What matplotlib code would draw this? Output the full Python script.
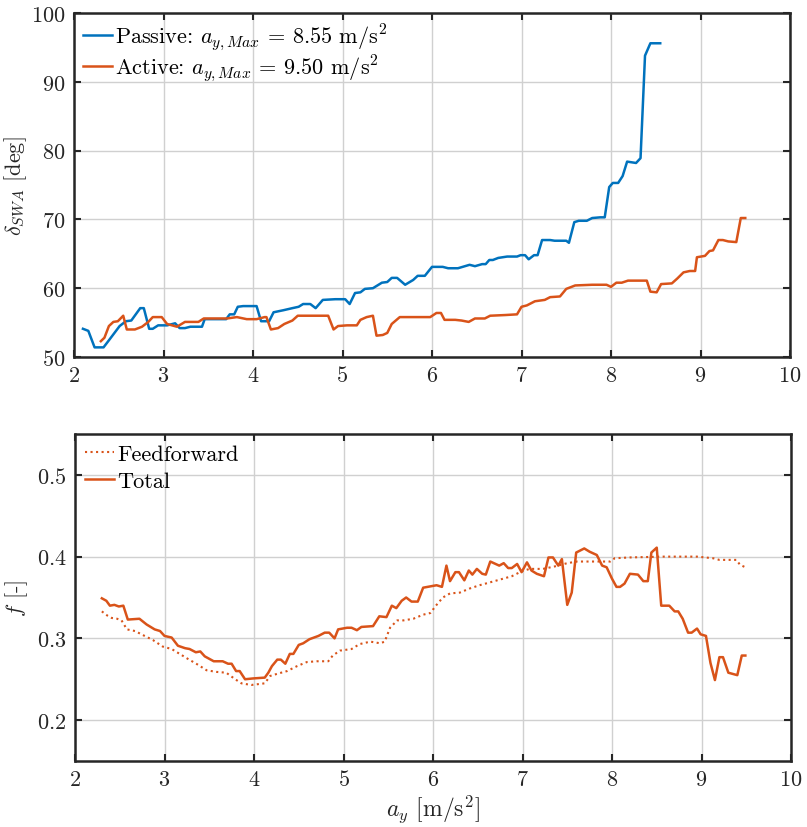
import matplotlib
matplotlib.use('Agg')
import matplotlib.pyplot as plt

plt.rcParams['font.family'] = 'serif'
plt.rcParams['font.serif'] = ['cmr10']
plt.rcParams['mathtext.fontset'] = 'cm'
plt.rcParams['axes.formatter.use_mathtext'] = True

BLUE = '#0072BD'
ORANGE = '#D95319'

# top: steering wheel angle vs lateral acceleration
passive_ay = [2.10, 2.16, 2.23, 2.33, 2.40, 2.51, 2.58, 2.64, 2.74, 2.78, 2.84, 2.88, 2.94, 3.04,
              3.13, 3.18, 3.24, 3.30, 3.43, 3.46, 3.70, 3.74, 3.79, 3.83, 3.89, 4.04, 4.09, 4.18,
              4.23, 4.34, 4.44, 4.51, 4.56, 4.64, 4.70, 4.78, 4.92, 5.03, 5.08, 5.14, 5.20, 5.25,
              5.34, 5.44, 5.50, 5.55, 5.61, 5.70, 5.79, 5.84, 5.92, 6.00, 6.12, 6.18, 6.29, 6.42,
              6.48, 6.56, 6.60, 6.64, 6.68, 6.74, 6.84, 6.95, 6.99, 7.04, 7.08, 7.14, 7.18, 7.23,
              7.32, 7.37, 7.46, 7.50, 7.53, 7.59, 7.64, 7.73, 7.79, 7.88, 7.93, 7.98, 8.02, 8.08,
              8.13, 8.18, 8.28, 8.33, 8.38, 8.44, 8.55]
passive_swa = [54.1, 53.8, 51.4, 51.4, 52.6, 54.5, 55.2, 55.3, 57.1, 57.1, 54.1, 54.1, 54.6, 54.6,
               54.9, 54.2, 54.2, 54.4, 54.4, 55.5, 55.5, 56.2, 56.2, 57.3, 57.4, 57.4, 55.2, 55.2,
               56.5, 56.8, 57.1, 57.3, 57.7, 57.7, 57.1, 58.3, 58.4, 58.4, 57.7, 59.3, 59.4, 59.9,
               60.0, 60.8, 60.9, 61.5, 61.5, 60.5, 61.2, 61.8, 61.8, 63.1, 63.1, 62.9, 62.9, 63.4,
               63.2, 63.5, 63.5, 64.1, 64.1, 64.4, 64.6, 64.6, 64.8, 64.8, 64.2, 64.8, 64.8, 67.0,
               67.0, 66.9, 66.9, 66.9, 66.6, 69.6, 69.8, 69.8, 70.2, 70.3, 70.3, 74.7, 75.3, 75.3,
               76.3, 78.4, 78.2, 78.9, 93.8, 95.6, 95.6]

active_ay = [2.30, 2.34, 2.39, 2.44, 2.49, 2.55, 2.59, 2.68, 2.76, 2.83, 2.88, 2.98, 3.04, 3.15,
             3.24, 3.39, 3.45, 3.71, 3.82, 3.93, 4.04, 4.13, 4.15, 4.20, 4.28, 4.35, 4.44, 4.50,
             4.56, 4.84, 4.90, 4.95, 5.05, 5.16, 5.20, 5.27, 5.34, 5.38, 5.45, 5.50, 5.55, 5.64,
             5.98, 6.05, 6.10, 6.14, 6.26, 6.33, 6.41, 6.48, 6.59, 6.65, 6.82, 6.95, 7.00, 7.06,
             7.15, 7.26, 7.32, 7.43, 7.50, 7.60, 7.79, 7.95, 8.00, 8.06, 8.12, 8.19, 8.40, 8.44,
             8.51, 8.56, 8.68, 8.74, 8.81, 8.88, 8.94, 8.96, 9.05, 9.10, 9.14, 9.20, 9.25, 9.31,
             9.40, 9.45, 9.50]
active_swa = [52.3, 52.8, 54.5, 55.1, 55.2, 56.0, 54.0, 54.0, 54.4, 55.1, 55.8, 55.8, 54.8, 54.4,
              55.1, 55.1, 55.6, 55.6, 55.8, 55.5, 55.5, 55.8, 55.8, 54.0, 54.2, 54.8, 55.3, 56.0,
              56.0, 56.0, 54.0, 54.5, 54.6, 54.6, 55.4, 55.8, 56.0, 53.1, 53.2, 53.5, 54.8, 55.8,
              55.8, 56.4, 56.4, 55.4, 55.4, 55.3, 55.1, 55.6, 55.6, 56.0, 56.1, 56.2, 57.3, 57.5,
              58.1, 58.3, 58.7, 58.8, 59.9, 60.4, 60.5, 60.5, 60.2, 60.8, 60.8, 61.1, 61.1, 59.5,
              59.4, 60.6, 60.7, 61.4, 62.3, 62.5, 62.5, 64.5, 64.7, 65.4, 65.5, 67.0, 67.0, 66.8,
              66.7, 70.2, 70.2]

# bottom: f factor (total and feedforward part)
total_ay = [2.30, 2.35, 2.39, 2.44, 2.49, 2.54, 2.59, 2.72, 2.80, 2.89, 2.95, 3.00, 3.08, 3.15,
            3.23, 3.28, 3.35, 3.40, 3.45, 3.55, 3.65, 3.71, 3.75, 3.80, 3.84, 3.90, 3.99, 4.12,
            4.16, 4.20, 4.26, 4.30, 4.35, 4.40, 4.44, 4.50, 4.55, 4.62, 4.72, 4.79, 4.84, 4.90,
            4.94, 5.04, 5.09, 5.15, 5.20, 5.33, 5.40, 5.48, 5.54, 5.59, 5.65, 5.70, 5.76, 5.83,
            5.89, 5.99, 6.04, 6.10, 6.15, 6.19, 6.25, 6.29, 6.35, 6.40, 6.44, 6.49, 6.55, 6.59,
            6.64, 6.74, 6.79, 6.84, 6.88, 6.94, 6.99, 7.05, 7.10, 7.16, 7.24, 7.29, 7.34, 7.40,
            7.44, 7.50, 7.55, 7.60, 7.69, 7.75, 7.83, 7.89, 7.94, 8.00, 8.05, 8.09, 8.14, 8.20,
            8.29, 8.35, 8.40, 8.44, 8.50, 8.55, 8.64, 8.70, 8.74, 8.79, 8.85, 8.89, 8.95, 8.99,
            9.05, 9.10, 9.15, 9.20, 9.24, 9.30, 9.40, 9.45, 9.49]
total_f = [0.349, 0.346, 0.340, 0.341, 0.339, 0.340, 0.323, 0.324, 0.317, 0.311, 0.309, 0.303,
           0.301, 0.291, 0.288, 0.287, 0.283, 0.284, 0.278, 0.272, 0.272, 0.269, 0.269, 0.260,
           0.260, 0.250, 0.251, 0.252, 0.258, 0.266, 0.274, 0.274, 0.269, 0.281, 0.281, 0.292,
           0.294, 0.299, 0.303, 0.307, 0.307, 0.300, 0.311, 0.313, 0.313, 0.310, 0.314, 0.315,
           0.327, 0.326, 0.340, 0.337, 0.346, 0.350, 0.345, 0.345, 0.362, 0.364, 0.365, 0.363,
           0.389, 0.370, 0.381, 0.381, 0.371, 0.383, 0.378, 0.385, 0.379, 0.378, 0.394, 0.389,
           0.392, 0.386, 0.386, 0.391, 0.381, 0.393, 0.383, 0.379, 0.376, 0.399, 0.399, 0.389,
           0.397, 0.341, 0.356, 0.405, 0.410, 0.406, 0.402, 0.389, 0.387, 0.373, 0.363, 0.363,
           0.367, 0.379, 0.378, 0.370, 0.370, 0.405, 0.411, 0.340, 0.340, 0.333, 0.333, 0.324,
           0.307, 0.307, 0.312, 0.305, 0.303, 0.270, 0.249, 0.277, 0.277, 0.258, 0.255, 0.279,
           0.279]

ff_ay = [2.30, 2.36, 2.41, 2.47, 2.52, 2.58, 2.67, 2.76, 2.87, 2.98, 3.08, 3.17, 3.26, 3.37,
         3.47, 3.58, 3.69, 3.79, 3.86, 3.97, 4.12, 4.18, 4.27, 4.37, 4.48, 4.59, 4.70, 4.83,
         4.88, 4.96, 5.09, 5.18, 5.30, 5.41, 5.46, 5.52, 5.60, 5.67, 5.78, 5.89, 5.97, 6.04,
         6.11, 6.19, 6.30, 6.41, 6.52, 6.62, 6.75, 6.88, 6.99, 7.08, 7.23, 7.36, 7.50, 7.61,
         7.83, 7.98, 8.03, 8.20, 8.57, 8.95, 9.13, 9.20, 9.39, 9.43, 9.49]
ff_f = [0.333, 0.328, 0.325, 0.324, 0.322, 0.311, 0.309, 0.304, 0.298, 0.290, 0.287, 0.281,
        0.275, 0.268, 0.261, 0.259, 0.258, 0.250, 0.245, 0.243, 0.245, 0.254, 0.257, 0.260,
        0.266, 0.271, 0.272, 0.272, 0.279, 0.285, 0.287, 0.293, 0.296, 0.294, 0.296, 0.313,
        0.322, 0.322, 0.324, 0.329, 0.331, 0.341, 0.350, 0.355, 0.356, 0.361, 0.365, 0.368,
        0.372, 0.376, 0.382, 0.385, 0.385, 0.388, 0.392, 0.394, 0.394, 0.394, 0.398, 0.399,
        0.400, 0.400, 0.398, 0.396, 0.396, 0.390, 0.387]

fig = plt.figure(figsize=(8.07, 8.28), dpi=100)
ax1 = fig.add_axes([74 / 807, 1 - 358 / 828, 716 / 807, 344 / 828])
ax2 = fig.add_axes([75 / 807, 1 - 762 / 828, 716 / 807, 327 / 828])


def style(ax):
    ax.grid(True, color='#d0d0d0', linewidth=1.0)
    ax.set_axisbelow(True)
    ax.tick_params(direction='in', top=True, right=True, length=5, width=1.5,
                   labelsize=16, colors='#262626', pad=6)
    for s in ax.spines.values():
        s.set_linewidth(1.8)
        s.set_color('#262626')
    ax.set_xlim(2, 10)
    ax.set_xticks(range(2, 11))


ax1.plot(passive_ay, passive_swa, color=BLUE, lw=1.8,
         label=r'Passive: $a_{y,Max}$ = 8.55 m/s$^2$')
ax1.plot(active_ay, active_swa, color=ORANGE, lw=1.8,
         label=r'Active: $a_{y,Max}$ = 9.50 m/s$^2$')
style(ax1)
ax1.set_ylim(50, 100)
ax1.set_yticks(range(50, 101, 10))
ax1.set_ylabel(r'$\delta_{SWA}$ [deg]', fontsize=16, color='#262626')
ax1.yaxis.set_label_coords(-0.063, 0.5)
ax1.legend(loc='upper left', frameon=False, fontsize=16, handlelength=1.3,
           handletextpad=0.15, borderaxespad=0.15, labelspacing=0.0, borderpad=0.25)

ax2.plot(ff_ay, ff_f, color=ORANGE, lw=1.5, ls=':', label='Feedforward')
ax2.plot(total_ay, total_f, color=ORANGE, lw=1.8, label='Total')
style(ax2)
ax2.set_ylim(0.15, 0.55)
ax2.set_yticks([0.2, 0.3, 0.4, 0.5])
ax2.set_ylabel(r'$f$ [-]', fontsize=16, color='#262626')
ax2.yaxis.set_label_coords(-0.063, 0.5)
ax2.set_xlabel(r'$a_y$ [m/s$^2$]', fontsize=17, color='#262626', labelpad=2)
ax2.legend(loc='upper left', frameon=False, fontsize=16, handlelength=1.3,
           handletextpad=0.15, borderaxespad=0.15, labelspacing=0.35, borderpad=0.3)

fig.savefig('out.png', dpi=100)
